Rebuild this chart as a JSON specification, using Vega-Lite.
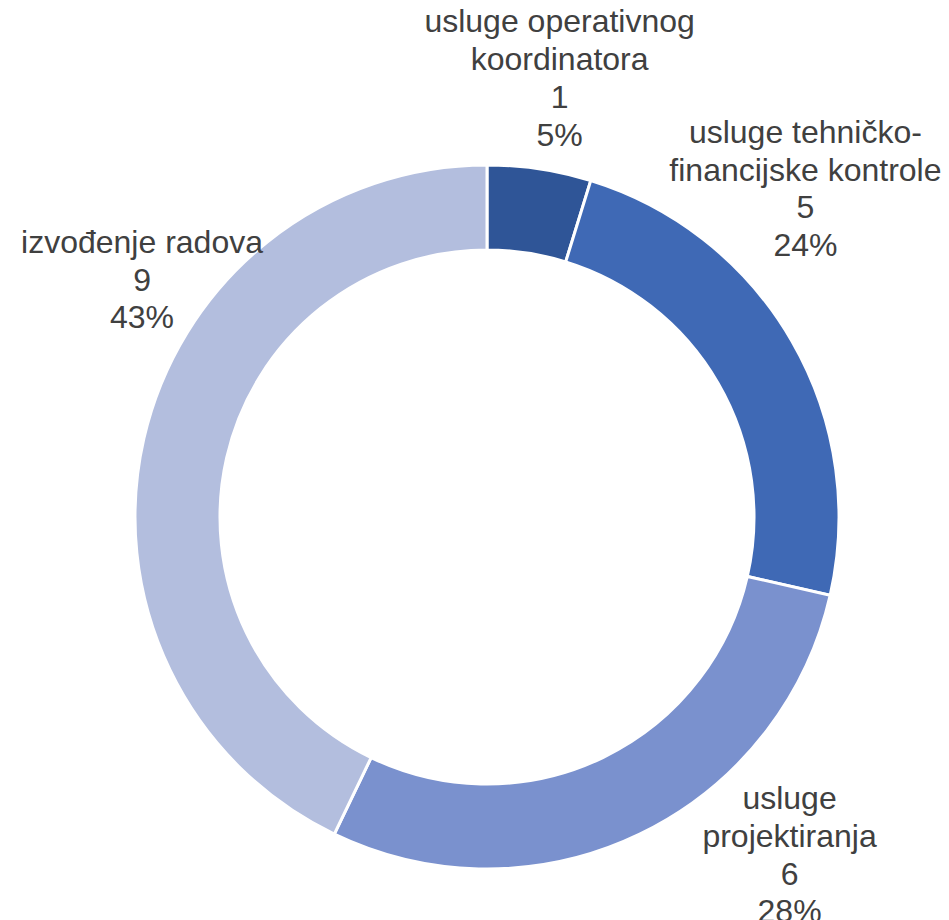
{
  "$schema": "https://vega.github.io/schema/vega-lite/v6.json",
  "width": 924,
  "height": 806,
  "autosize": {"type": "none"},
  "padding": {"left": 25, "top": 114, "right": 0, "bottom": 0},
  "background": "white",
  "config": {"view": {"stroke": null}},
  "data": {
    "values": [
      {"cat": "usluge operativnog koordinatora", "value": 1, "pct": "5%", "rank": 1, "label": "usluge operativnog\nkoordinatora\n1\n5%"},
      {"cat": "usluge tehničko-financijske kontrole", "value": 5, "pct": "24%", "rank": 2, "label": "usluge tehničko-\nfinancijske kontrole\n5\n24%"},
      {"cat": "usluge projektiranja", "value": 6, "pct": "28%", "rank": 3, "label": "usluge\nprojektiranja\n6\n28%"},
      {"cat": "izvođenje radova", "value": 9, "pct": "43%", "rank": 4, "label": "izvođenje radova\n9\n43%"}
    ]
  },
  "encoding": {
    "theta": {"field": "value", "type": "quantitative", "stack": true},
    "order": {"field": "rank", "type": "quantitative"}
  },
  "layer": [
    {
      "mark": {"type": "arc", "outerRadius": 352, "innerRadius": 267, "stroke": "white", "strokeWidth": 3},
      "encoding": {
        "color": {
          "field": "cat",
          "type": "nominal",
          "scale": {
            "domain": ["usluge operativnog koordinatora", "usluge tehničko-financijske kontrole", "usluge projektiranja", "izvođenje radova"],
            "range": ["#2F5597", "#3F69B5", "#7A91CE", "#B3BEDE"]
          },
          "legend": null
        }
      }
    },
    {
      "mark": {"type": "text", "radius": 400, "font": "Liberation Sans", "fontSize": 32, "color": "#404040", "lineBreak": "\n", "lineHeight": 37.7, "align": "center", "baseline": "middle", "dx": 13, "dy": -99},
      "encoding": {"text": {"condition": {"test": "datum.rank === 1", "field": "label", "type": "nominal"}, "value": ""}}
    },
    {
      "mark": {"type": "text", "radius": 400, "font": "Liberation Sans", "fontSize": 32, "color": "#404040", "lineBreak": "\n", "lineHeight": 37.7, "align": "center", "baseline": "middle", "dx": -28, "dy": -184},
      "encoding": {"text": {"condition": {"test": "datum.rank === 2", "field": "label", "type": "nominal"}, "value": ""}}
    },
    {
      "mark": {"type": "text", "radius": 400, "font": "Liberation Sans", "fontSize": 32, "color": "#404040", "lineBreak": "\n", "lineHeight": 37.7, "align": "center", "baseline": "middle", "dx": 129, "dy": -78},
      "encoding": {"text": {"condition": {"test": "datum.rank === 3", "field": "label", "type": "nominal"}, "value": ""}}
    },
    {
      "mark": {"type": "text", "radius": 400, "font": "Liberation Sans", "fontSize": 32, "color": "#404040", "lineBreak": "\n", "lineHeight": 37.7, "align": "center", "baseline": "middle", "dx": 45, "dy": -185},
      "encoding": {"text": {"condition": {"test": "datum.rank === 4", "field": "label", "type": "nominal"}, "value": ""}}
    }
  ]
}
